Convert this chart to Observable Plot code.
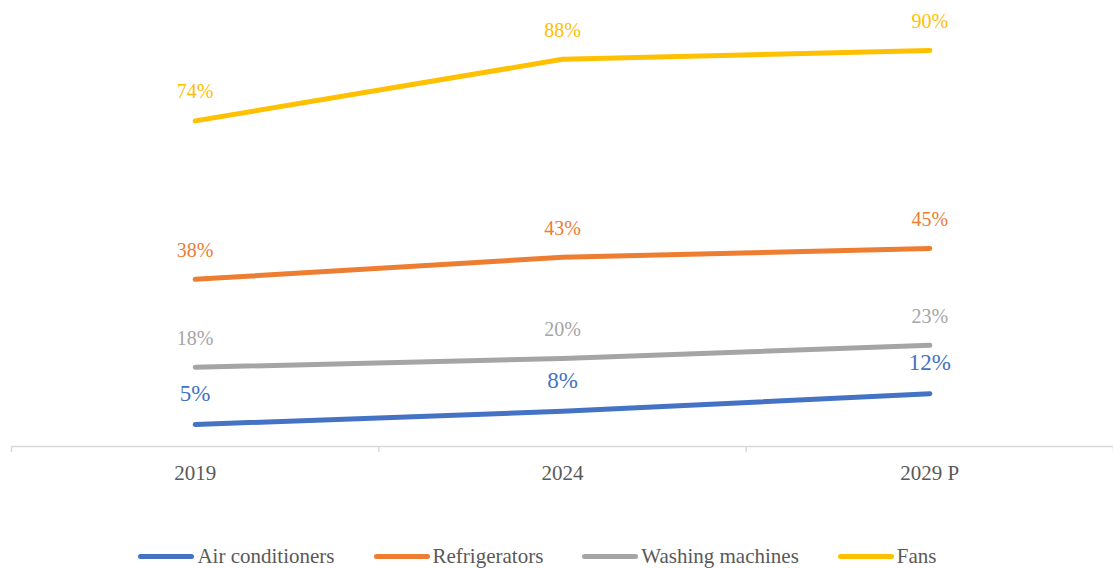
<!DOCTYPE html>
<html><head><meta charset="utf-8">
<script src="https://cdn.jsdelivr.net/npm/d3@7"></script>
<script src="https://cdn.jsdelivr.net/npm/@observablehq/plot@0.6"></script>
<style>
body{margin:0;background:#fff;font-family:'Times New Roman','Liberation Serif','DejaVu Serif',serif;}
#legend{display:flex;justify-content:center;align-items:center;margin-top:54px;padding-right:38px;font-size:21px;line-height:24px;color:#595959;font-family:'Times New Roman','Liberation Serif','DejaVu Serif',serif;}
.item{display:flex;align-items:center;margin:0 19.5px;}
.sw{width:56px;height:5px;border-radius:3px;margin-right:3px;}
svg text{font-family:'Times New Roman','Liberation Serif','DejaVu Serif',serif !important;}
</style></head><body>
<div id="chart"></div>
<div id="legend"></div>
<script>
const FONT = "'Times New Roman','Liberation Serif','DejaVu Serif',serif";
const categories = ["2019","2024","2029 P"];
const seriesNames = ["Air conditioners","Refrigerators","Washing machines","Fans"];
const colors = ["#4472C4","#ED7D31","#A5A5A5","#FFC000"];
const airConditioners = [5,8,12];
const refrigerators = [38,43,45];
const washingMachines = [18,20,23];
const fans = [74,88,90];

const allValues = [airConditioners, refrigerators, washingMachines, fans];
const data = [];
seriesNames.forEach((s, si) => {
  categories.forEach((c, ci) => data.push({series: s, idx: ci + 0.5, value: allValues[si][ci]}));
});

const chart = Plot.plot({
  width: 1113, height: 490,
  marginTop: 6, marginBottom: 44, marginLeft: 11, marginRight: 0,
  style: {fontFamily: FONT, background: "#fff"},
  x: {domain: [0, categories.length], axis: null, label: null},
  y: {domain: [0, 100], axis: null, label: null},
  color: {domain: seriesNames, range: colors},
  marks: [
    Plot.ruleY([0], {stroke: "#d9d9d9", strokeWidth: 1.5}),
    Plot.axisX({ticks: d3.range(categories.length + 1), tickSize: 6, tickFormat: () => "", label: null, stroke: "#d9d9d9", strokeWidth: 1.5}),
    Plot.axisX({ticks: categories.map((c, i) => i + 0.5), tickSize: 0, tickPadding: 19, label: null, tickFormat: d => categories[d - 0.5], fontSize: 21, fontFamily: FONT, fill: "#595959", color: "#595959"}),
    Plot.line(data, {x: "idx", y: "value", z: "series", stroke: "series", strokeWidth: 5, strokeLinecap: "round", strokeLinejoin: "round"}),
    Plot.text(data.filter(d => d.series !== "Air conditioners"), {x: "idx", y: "value", text: d => d.value + "%", fill: "series", dy: -29, fontSize: 20, fontFamily: FONT}),
    Plot.text(data.filter(d => d.series === "Air conditioners"), {x: "idx", y: "value", text: d => d.value + "%", fill: "series", dy: -31, fontSize: 23, fontFamily: FONT})
  ]
});
document.getElementById("chart").appendChild(chart);

const legend = document.getElementById("legend");
seriesNames.forEach((s, i) => {
  const it = document.createElement("div"); it.className = "item";
  const sw = document.createElement("div"); sw.className = "sw"; sw.style.background = colors[i];
  const t = document.createElement("span"); t.textContent = s;
  it.appendChild(sw); it.appendChild(t); legend.appendChild(it);
});
</script></body></html>
